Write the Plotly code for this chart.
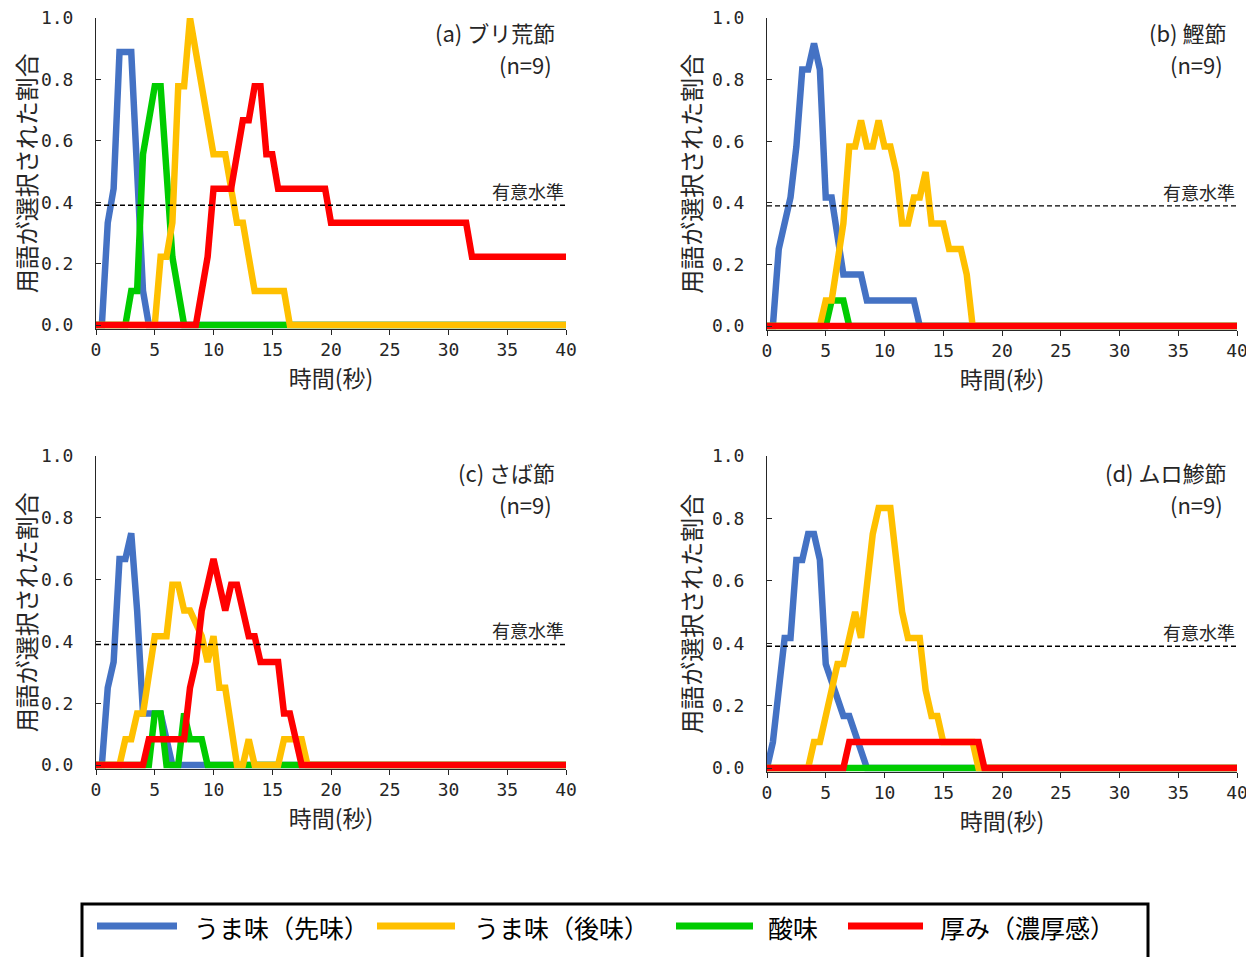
import plotly.graph_objects as go

# Target canvas 1254x957; the page adds an 8px body margin at the top/left,
# so every reference pixel position is shifted by 8px into figure coordinates.
W, H = 1254, 957
OFF = 8
FW, FH = W - OFF, H - OFF

SERIES_NAMES = ["うま味（先味）", "うま味（後味）", "酸味", "厚み（濃厚感）"]
COLORS = ["#4472C4", "#FFC000", "#00CC00", "#FF0000"]
PANEL_TITLES = ["(a) ブリ荒節", "(b) 鰹節", "(c) さば節", "(d) ムロ鯵節"]
PANEL_N = ["(n=9)", "(n=9)", "(n=9)", "(n=9)"]
SIG_LEVEL = 0.39
X_TICKS = [0, 5, 10, 15, 20, 25, 30, 35, 40]
Y_TICKS = [0.0, 0.2, 0.4, 0.6, 0.8, 1.0]

# ---- (a) ブリ荒節 ----
a_blue_t = [0, 0.5, 1.0, 1.5, 2.0, 3.0, 4.0, 4.5, 40]
a_blue_v = [0, 0, 0.333, 0.444, 0.889, 0.889, 0.111, 0, 0]
a_yellow_t = [0, 5.0, 5.5, 6.0, 6.5, 7.0, 7.5, 8.0, 10.0, 11.0, 12.0, 12.5, 13.5, 16.0, 16.5, 40]
a_yellow_v = [0, 0, 0.222, 0.222, 0.333, 0.778, 0.778, 1.0, 0.556, 0.556, 0.333, 0.333, 0.111, 0.111, 0, 0]
a_green_t = [0, 2.5, 3.0, 3.5, 4.0, 5.0, 5.5, 6.5, 7.5, 40]
a_green_v = [0, 0, 0.111, 0.111, 0.556, 0.778, 0.778, 0.222, 0, 0]
a_red_t = [0, 8.5, 9.5, 10.0, 11.5, 12.5, 13.0, 13.5, 14.0, 14.5, 15.0, 15.5, 19.5, 20.0, 31.5, 32.0, 40]
a_red_v = [0, 0, 0.222, 0.444, 0.444, 0.667, 0.667, 0.778, 0.778, 0.556, 0.556, 0.444, 0.444, 0.333, 0.333, 0.222, 0.222]

# ---- (b) 鰹節 ----
b_blue_t = [0, 0.5, 1.0, 2.0, 2.5, 3.0, 3.5, 4.0, 4.5, 5.0, 5.5, 6.5, 8.0, 8.5, 12.5, 13.0, 40]
b_blue_v = [0, 0, 0.25, 0.417, 0.583, 0.833, 0.833, 0.917, 0.833, 0.417, 0.417, 0.167, 0.167, 0.083, 0.083, 0, 0]
b_yellow_t = [0, 4.5, 5.0, 5.5, 6.5, 7.0, 7.5, 8.0, 8.5, 9.0, 9.5, 10.0, 10.5, 11.0, 11.5, 12.0, 12.5, 13.0, 13.5, 14.0, 15.0, 15.5, 16.5, 17.0, 17.5, 40]
b_yellow_v = [0, 0, 0.083, 0.083, 0.333, 0.583, 0.583, 0.667, 0.583, 0.583, 0.667, 0.583, 0.583, 0.5, 0.333, 0.333, 0.417, 0.417, 0.5, 0.333, 0.333, 0.25, 0.25, 0.167, 0, 0]
b_green_t = [0, 5.0, 5.5, 6.5, 7.0, 40]
b_green_v = [0, 0, 0.083, 0.083, 0, 0]
b_red_t = [0, 40]
b_red_v = [0, 0]

# ---- (c) さば節 ----
c_blue_t = [0, 0.5, 1.0, 1.5, 2.0, 2.5, 3.0, 3.5, 4.0, 5.5, 6.5, 40]
c_blue_v = [0, 0, 0.25, 0.333, 0.667, 0.667, 0.75, 0.5, 0.167, 0.167, 0, 0]
c_yellow_t = [0, 2.0, 2.5, 3.0, 3.5, 4.0, 5.0, 6.0, 6.5, 7.0, 7.5, 8.0, 9.0, 9.5, 10.0, 10.5, 11.0, 12.0, 12.5, 13.0, 13.5, 15.5, 16.0, 17.5, 18.0, 40]
c_yellow_v = [0, 0, 0.083, 0.083, 0.167, 0.167, 0.417, 0.417, 0.583, 0.583, 0.5, 0.5, 0.417, 0.333, 0.417, 0.25, 0.25, 0, 0, 0.083, 0, 0, 0.083, 0.083, 0, 0]
c_green_t = [0, 4.5, 5.0, 5.5, 6.0, 7.0, 7.5, 8.0, 9.0, 9.5, 40]
c_green_v = [0, 0, 0.167, 0.167, 0, 0, 0.167, 0.083, 0.083, 0, 0]
c_red_t = [0, 4.0, 4.5, 7.5, 8.0, 8.5, 9.0, 10.0, 11.0, 11.5, 12.0, 13.0, 13.5, 14.0, 15.5, 16.0, 16.5, 17.5, 40]
c_red_v = [0, 0, 0.083, 0.083, 0.25, 0.333, 0.5, 0.667, 0.5, 0.583, 0.583, 0.417, 0.417, 0.333, 0.333, 0.167, 0.167, 0, 0]

# ---- (d) ムロ鯵節 ----
d_blue_t = [0, 0.5, 1.5, 2.0, 2.5, 3.0, 3.5, 4.0, 4.5, 5.0, 6.5, 7.0, 8.5, 40]
d_blue_v = [0, 0.083, 0.417, 0.417, 0.667, 0.667, 0.75, 0.75, 0.667, 0.333, 0.167, 0.167, 0, 0]
d_yellow_t = [0, 3.5, 4.0, 4.5, 6.0, 6.5, 7.5, 8.0, 9.0, 9.5, 10.5, 11.5, 12.0, 13.0, 13.5, 14.0, 14.5, 15.0, 17.5, 18.0, 40]
d_yellow_v = [0, 0, 0.083, 0.083, 0.333, 0.333, 0.5, 0.417, 0.75, 0.833, 0.833, 0.5, 0.417, 0.417, 0.25, 0.167, 0.167, 0.083, 0.083, 0, 0]
d_green_t = [0, 40]
d_green_v = [0, 0]
d_red_t = [0, 6.5, 7.0, 18.0, 18.5, 40]
d_red_v = [0, 0, 0.083, 0.083, 0, 0]

PANELS = [
    [(a_blue_t, a_blue_v), (a_yellow_t, a_yellow_v), (a_green_t, a_green_v), (a_red_t, a_red_v)],
    [(b_blue_t, b_blue_v), (b_yellow_t, b_yellow_v), (b_green_t, b_green_v), (b_red_t, b_red_v)],
    [(c_blue_t, c_blue_v), (c_yellow_t, c_yellow_v), (c_green_t, c_green_v), (c_red_t, c_red_v)],
    [(d_blue_t, d_blue_v), (d_yellow_t, d_yellow_v), (d_green_t, d_green_v), (d_red_t, d_red_v)],
]


def px(x):
    return (x - OFF) / FW


def py(y):
    return 1 - (y - OFF) / FH


# (left, right, top, px-per-unit) in reference pixels
GEOM = [(96, 566, 18, 307), (767, 1237, 18, 308), (96, 566, 456, 309), (767, 1237, 456, 312)]
TITLE_ROW = [16, 16, 456, 456]  # reference top rows used to place the panel titles
Y_LO = -0.012
FONT = "Noto Sans CJK JP, Noto Sans, sans-serif"
TICKFONT = "DejaVu Sans Mono, Noto Sans CJK JP, monospace"
INK = "#262626"

fig = go.Figure()
DRAW_ORDER = [0, 2, 1, 3]  # blue, green, yellow, red (red on top)

for p in range(4):
    sfx = "" if p == 0 else str(p + 1)
    for s in DRAW_ORDER:
        t, v = PANELS[p][s]
        fig.add_trace(go.Scatter(
            x=t, y=v, mode="lines", name=SERIES_NAMES[s],
            line=dict(color=COLORS[s], width=6.5),
            showlegend=False, xaxis="x" + sfx, yaxis="y" + sfx,
            hoverinfo="skip",
        ))
    fig.add_trace(go.Scatter(
        x=[X_TICKS[0], X_TICKS[-1]], y=[SIG_LEVEL, SIG_LEVEL], mode="lines",
        name="有意水準",
        line=dict(color="black", width=1.4, dash="5px,3px"),
        showlegend=False, xaxis="x" + sfx, yaxis="y" + sfx, hoverinfo="skip",
    ))

layout = dict(
    width=FW, height=FH, margin=dict(l=0, r=0, t=0, b=0),
    paper_bgcolor="white", plot_bgcolor="white",
    font=dict(family=FONT, color=INK),
    showlegend=False,
)

annotations = []
for p, (l, r, top, unit) in enumerate(GEOM):
    sfx = "" if p == 0 else str(p + 1)
    ph = unit * (1.0 - Y_LO)
    bottom = top + ph
    layout["xaxis" + sfx] = dict(
        domain=[px(l), px(r)], anchor="y" + sfx, range=[0, 40],
        tickvals=X_TICKS, ticks="outside", ticklen=5, tickwidth=1, tickcolor=INK,
        showline=True, linecolor=INK, linewidth=1, showgrid=False, zeroline=False,
        tickfont=dict(family=TICKFONT, size=18, color=INK), ticklabeloverflow="allow",
        title=dict(text="時間(秒)", font=dict(family=FONT, size=23, color=INK), standoff=5),
        automargin=False, fixedrange=True,
    )
    layout["yaxis" + sfx] = dict(
        domain=[py(bottom), py(top)], anchor="x" + sfx, range=[Y_LO, 1.0],
        tickvals=Y_TICKS, ticktext=["%.1f" % v for v in Y_TICKS],
        ticks="inside", ticklen=5, tickwidth=1, tickcolor=INK,
        showline=True, linecolor=INK, linewidth=1, showgrid=False, zeroline=False,
        tickfont=dict(family=TICKFONT, size=18, color=INK), ticklabelstandoff=18,
        ticklabeloverflow="allow",
        title=dict(text="用語が選択された割合", font=dict(family=FONT, size=24, color=INK), standoff=3),
        automargin=False, fixedrange=True,
    )
    tshift = TITLE_ROW[p] - top
    annotations.append(dict(
        xref="x" + sfx + " domain", yref="y" + sfx + " domain",
        x=0.98, y=1.0 + (2 - tshift) / ph, xanchor="right", yanchor="top", showarrow=False,
        text=PANEL_TITLES[p], font=dict(family=FONT, size=22, color=INK),
    ))
    annotations.append(dict(
        xref="x" + sfx + " domain", yref="y" + sfx + " domain",
        x=0.975, y=1.0 - (30 + tshift) / ph, xanchor="right", yanchor="top", showarrow=False,
        text=PANEL_N[p], font=dict(family=FONT, size=22, color=INK),
    ))
    annotations.append(dict(
        xref="x" + sfx + " domain", yref="y" + sfx,
        x=1.0, y=SIG_LEVEL, xanchor="right", yanchor="bottom", showarrow=False,
        text="有意水準", font=dict(family=FONT, size=18, color=INK), yshift=-1,
    ))

# ---- legend box built from the series names and colours ----
shapes = [dict(type="rect", xref="paper", yref="paper",
               x0=px(82), x1=px(1148), y0=-0.05, y1=py(904),
               line=dict(color="black", width=3), fillcolor="rgba(0,0,0,0)")]
LEG_LINE_X = [(97, 177), (377, 455), (676, 753), (848, 923)]
LEG_TEXT_X = [192, 472, 766, 938]
LEG_Y = 926
for i in range(4):
    x0, x1 = LEG_LINE_X[i]
    shapes.append(dict(type="line", xref="paper", yref="paper",
                       x0=px(x0), x1=px(x1), y0=py(LEG_Y), y1=py(LEG_Y),
                       line=dict(color=COLORS[i], width=7)))
    annotations.append(dict(xref="paper", yref="paper", x=px(LEG_TEXT_X[i]), y=py(LEG_Y + 1),
                            xanchor="left", yanchor="middle", showarrow=False,
                            text=SERIES_NAMES[i], font=dict(family=FONT, size=25, color="black")))

layout["annotations"] = annotations
layout["shapes"] = shapes
fig.update_layout(**layout)
fig.write_html("out.html")
